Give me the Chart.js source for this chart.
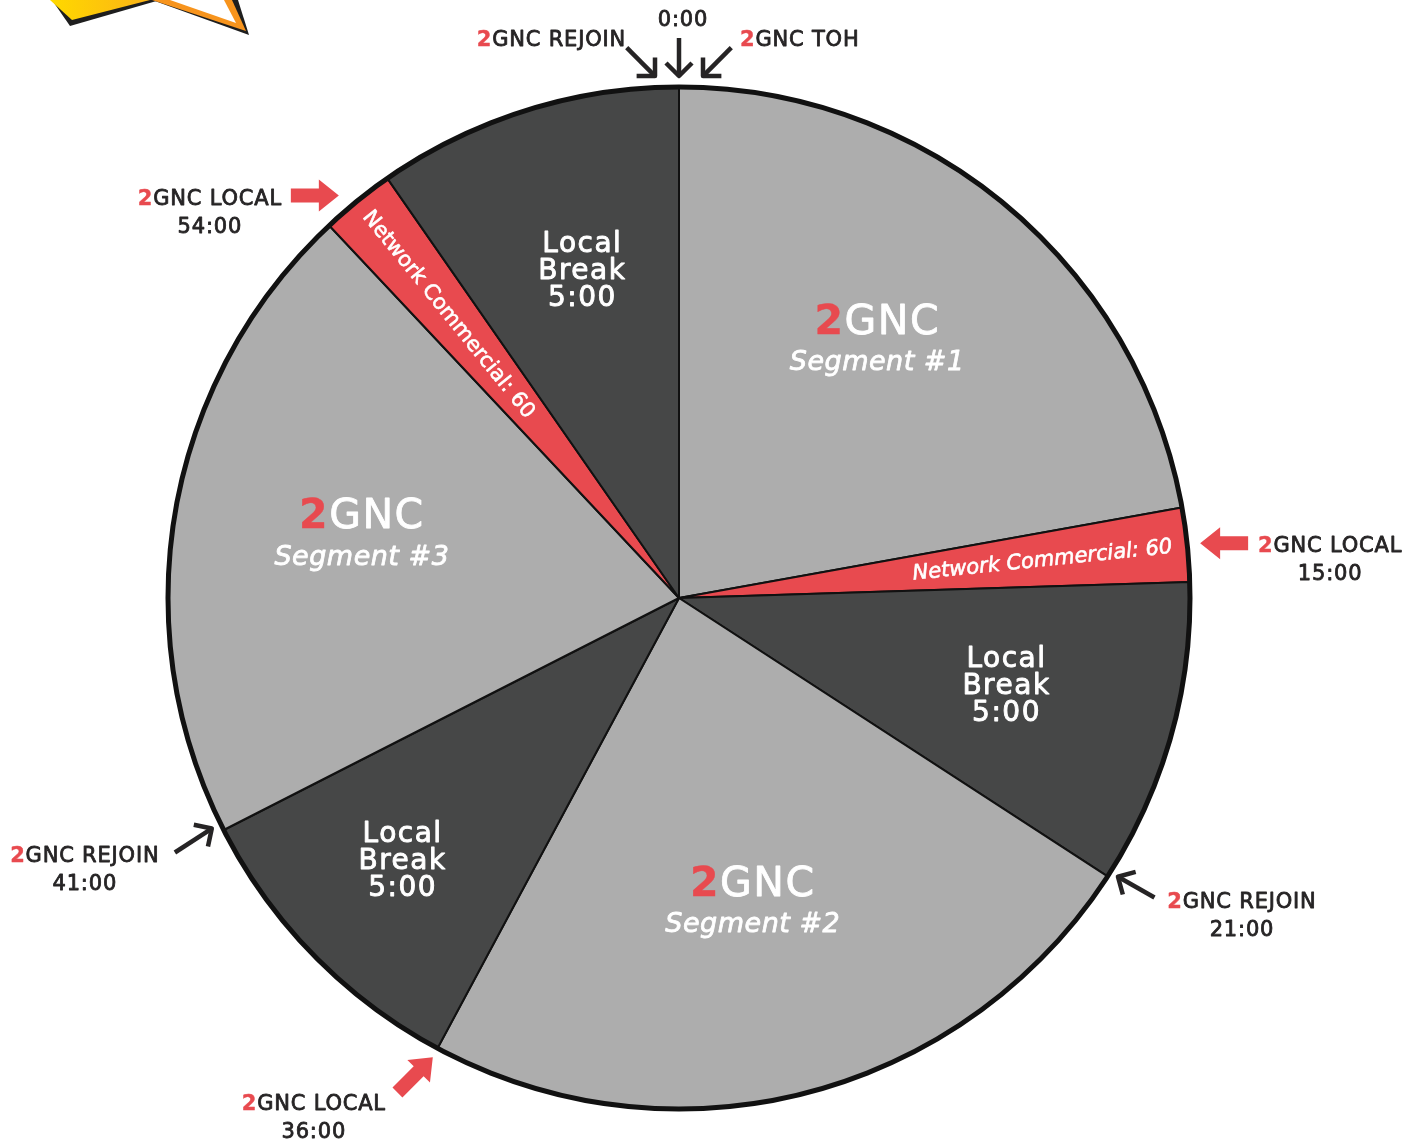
<!DOCTYPE html>
<html>

<head>
  <title>2GNC Hour Clock</title>
  <script src="https://cdn.jsdelivr.net/npm/chart.js"></script>
  <style>
    body {
      margin: 0;
      background: #fff;
    }

    #chartContainer {
      width: 1419px;
      height: 1140px;
    }
  </style>
</head>

<body>
  <div id="chartContainer">
    <canvas id="clock" width="1419" height="1140"></canvas>
  </div>

  <script>
    // one broadcast hour, minutes clockwise from the top of the hour
    const sliceNames = ['2GNC Segment #1', 'Network Commercial', 'Local Break', '2GNC Segment #2',
      'Local Break', '2GNC Segment #3', 'Network Commercial', 'Local Break'];
    const sliceKinds = ['segment', 'network', 'break', 'segment', 'break', 'segment', 'network', 'break'];
    const sliceMinutes = [13.3, 1.4, 5.8, 14.2, 5.8, 12.3, 1.4, 5.8];
    const sliceText = [
      ['2GNC', 'Segment #1'],
      ['Network Commercial: 60'],
      ['Local', 'Break', '5:00'],
      ['2GNC', 'Segment #2'],
      ['Local', 'Break', '5:00'],
      ['2GNC', 'Segment #3'],
      ['Network Commercial: 60'],
      ['Local', 'Break', '5:00']
    ];

    // cue points round the rim
    const cueMinutes = [0, 0, 0, 14, 20.5, 34.7, 40.5, 53.3];
    const cueNames = ['0:00', '2GNC REJOIN', '2GNC TOH', '2GNC LOCAL', '2GNC REJOIN', '2GNC LOCAL', '2GNC REJOIN', '2GNC LOCAL'];
    const cueTimes = ['', '', '', '15:00', '21:00', '36:00', '41:00', '54:00'];

    const RED = '#e84a4f';
    const INK = '#262425';
    const kindColor = { segment: '#adadad', break: '#464747', network: RED };

    // label radius (share of the pie radius) and small pixel nudges per slice
    const labelRadius = [0.62, 0.715, 0.67, 0.62, 0.74, 0.62, 0.715, 0.67];
    const labelNudge = [[-5, -12], [0, 0], [-3, -3], [-5, 0], [-7, -1], [-5, -6], [0, 0], [5, 0]];

    // where the arrows and cue texts go, relative to the rim point
    const cueLayout = [
      { shift: [0, 0], gap: 11, dir: 90, len: 38, arrow: 'line', text: [4, -55], align: 'center' },
      { shift: [-24, 0], gap: 11, dir: 45, len: 40, arrow: 'line', text: [-29, -35], align: 'right' },
      { shift: [24, 0], gap: 11, dir: 135, len: 40, arrow: 'line', text: [37, -35], align: 'left' },
      { shift: [0, 0], gap: 13, dir: 180, len: 48, arrow: 'block', text: [130, 3], align: 'center' },
      { shift: [2, -5], gap: 10, dir: 209.6, len: 42, arrow: 'line', text: [124, 26], align: 'center' },
      { shift: [0, 0], gap: 10, dir: -45, len: 50, arrow: 'block', text: [-119, 47], align: 'center' },
      { shift: [-3, -6], gap: 10, dir: -33, len: 44, arrow: 'line', text: [-127, 28], align: 'center' },
      { shift: [0, 0], gap: 16, dir: 0, len: 48, arrow: 'block', text: [-129, 4], align: 'center' }
    ];

    const FONT = '"DejaVu Sans", sans-serif';

    // fill plus a hairline stroke, to get the medium weight of the original lettering
    function heavyText(ctx, str, x, y, color, weight) {
      ctx.fillStyle = color;
      ctx.strokeStyle = color;
      ctx.lineWidth = weight;
      ctx.lineJoin = 'round';
      ctx.fillText(str, x, y);
      ctx.strokeText(str, x, y);
    }

    function drawTwoTone(ctx, str, x, y, align, white, size) {
      // leading "2" of 2GNC is red and bold
      const head = str.startsWith('2G') ? '2' : '';
      const rest = str.slice(head.length);
      ctx.font = 'bold ' + size + 'px ' + FONT;
      const hw = head ? ctx.measureText(head).width : 0;
      ctx.font = size + 'px ' + FONT;
      const w = hw + ctx.measureText(rest).width;
      let left = x;
      if (align === 'center') left = x - w / 2;
      if (align === 'right') left = x - w;
      ctx.textAlign = 'left';
      if (head) {
        ctx.font = 'bold ' + size + 'px ' + FONT;
        heavyText(ctx, head, left, y, RED, 0.4);
        left += hw;
      }
      ctx.font = size + 'px ' + FONT;
      heavyText(ctx, rest, left, y, white ? '#ffffff' : INK, 0.8);
    }

    function drawArrow(ctx, tipX, tipY, dirDeg, len, kind) {
      ctx.save();
      ctx.translate(tipX, tipY);
      ctx.rotate(dirDeg * Math.PI / 180);
      if (kind === 'block') {
        ctx.fillStyle = RED;
        ctx.beginPath();
        ctx.moveTo(0, 0);
        ctx.lineTo(-20, -16);
        ctx.lineTo(-20, -7);
        ctx.lineTo(-len, -7);
        ctx.lineTo(-len, 7);
        ctx.lineTo(-20, 7);
        ctx.lineTo(-20, 16);
        ctx.closePath();
        ctx.fill();
      } else {
        ctx.strokeStyle = INK;
        ctx.lineWidth = 4.5;
        ctx.beginPath();
        ctx.moveTo(-len, 0);
        ctx.lineTo(-1, 0);
        ctx.stroke();
        ctx.beginPath();
        ctx.moveTo(-13, -13);
        ctx.lineTo(0, 0);
        ctx.lineTo(-13, 13);
        ctx.stroke();
      }
      ctx.restore();
    }

    const clockLabels = {
      id: 'clockLabels',
      afterDatasetsDraw(chart) {
        const ctx = chart.ctx;
        const arcs = chart.getDatasetMeta(0).data;
        const cx = arcs[0].x, cy = arcs[0].y, R = arcs[0].outerRadius;
        const total = sliceMinutes.reduce((a, b) => a + b, 0);

        // heavy outer rim
        ctx.save();
        ctx.strokeStyle = '#111';
        ctx.lineWidth = 5;
        ctx.beginPath();
        ctx.arc(cx, cy, R, 0, Math.PI * 2);
        ctx.stroke();
        ctx.restore();

        ctx.save();
        ctx.textBaseline = 'middle';
        arcs.forEach((arc, i) => {
          const mid = (arc.startAngle + arc.endAngle) / 2;
          const kind = sliceKinds[i];
          const lines = sliceText[i];
          const r = R * labelRadius[i];
          const px = cx + Math.cos(mid) * r + labelNudge[i][0];
          const py = cy + Math.sin(mid) * r + labelNudge[i][1];
          if (kind === 'network') {
            ctx.save();
            ctx.translate(px, py);
            ctx.rotate(Math.cos(mid) >= 0 ? mid : mid + Math.PI);
            ctx.font = (Math.cos(mid) >= 0 ? 'italic ' : '') + '21px ' + FONT;
            ctx.textAlign = 'center';
            heavyText(ctx, lines[0], 0, 1, '#ffffff', 0.6);
            ctx.restore();
          } else if (kind === 'break') {
            ctx.font = '28px ' + FONT;
            ctx.letterSpacing = '1.5px';
            ctx.textAlign = 'center';
            lines.forEach((t, k) => heavyText(ctx, t, px + 0.75, py + (k - 1) * 27, '#ffffff', 0.9));
            ctx.letterSpacing = '0px';
          } else {
            ctx.letterSpacing = '1.5px';
            drawTwoTone(ctx, lines[0], px, py - 20, 'center', true, 41);
            ctx.letterSpacing = '0.5px';
            ctx.font = 'italic 27px ' + FONT;
            ctx.textAlign = 'center';
            heavyText(ctx, lines[1], px, py + 20, '#ffffff', 0.8);
            ctx.letterSpacing = '0px';
          }
        });

        // cue arrows and names
        ctx.letterSpacing = '0.8px';
        cueMinutes.forEach((m, i) => {
          const lay = cueLayout[i];
          const a = -Math.PI / 2 + (m / total) * Math.PI * 2;
          const tipX = cx + Math.cos(a) * (R + lay.gap) + lay.shift[0];
          const tipY = cy + Math.sin(a) * (R + lay.gap) + lay.shift[1];
          drawArrow(ctx, tipX, tipY, lay.dir, lay.len, lay.arrow);
          const tx = tipX + lay.text[0], ty = tipY + lay.text[1];
          drawTwoTone(ctx, cueNames[i], tx, ty, lay.align, false, 21);
          if (cueTimes[i]) {
            ctx.font = '21px ' + FONT;
            ctx.textAlign = 'center';
            heavyText(ctx, cueTimes[i], tx, ty + 28, INK, 0.8);
          }
        });
        ctx.letterSpacing = '0px';
        ctx.restore();
      },
      afterDraw(chart) {
        // corner of the station logo peeking in at the top left
        const ctx = chart.ctx;
        ctx.save();
        ctx.fillStyle = '#1e1e1e';
        ctx.beginPath();
        ctx.moveTo(52, 0); ctx.lineTo(70, 26); ctx.lineTo(160, 0);
        ctx.closePath(); ctx.fill();
        const g = ctx.createLinearGradient(55, 0, 150, 0);
        g.addColorStop(0, '#ffd700');
        g.addColorStop(1, '#fbb316');
        ctx.fillStyle = g;
        ctx.beginPath();
        ctx.moveTo(50, 0); ctx.lineTo(72, 20); ctx.lineTo(150, 0);
        ctx.closePath(); ctx.fill();
        ctx.fillStyle = '#1e1e1e';
        ctx.beginPath();
        ctx.moveTo(152, 0); ctx.lineTo(249, 35); ctx.lineTo(238, 0);
        ctx.closePath(); ctx.fill();
        ctx.fillStyle = '#f7941d';
        ctx.beginPath();
        ctx.moveTo(152, 0); ctx.lineTo(246, 31); ctx.lineTo(232, 0);
        ctx.closePath(); ctx.fill();
        ctx.fillStyle = '#ffffff';
        ctx.beginPath();
        ctx.moveTo(170, 0); ctx.lineTo(236, 23); ctx.lineTo(224, 0);
        ctx.closePath(); ctx.fill();
        ctx.restore();
      }
    };

    new Chart(document.getElementById('clock'), {
      type: 'pie',
      data: {
        labels: sliceNames,
        datasets: [{
          data: sliceMinutes,
          backgroundColor: sliceKinds.map(k => kindColor[k]),
          borderColor: '#111',
          borderWidth: 2
        }]
      },
      options: {
        responsive: false,
        animation: false,
        devicePixelRatio: 1,
        layout: {
          padding: { left: 167, right: 228, top: 86, bottom: 30 }
        },
        plugins: {
          legend: { display: false },
          tooltip: { enabled: false }
        }
      },
      plugins: [clockLabels]
    });
  </script>
</body>

</html>
